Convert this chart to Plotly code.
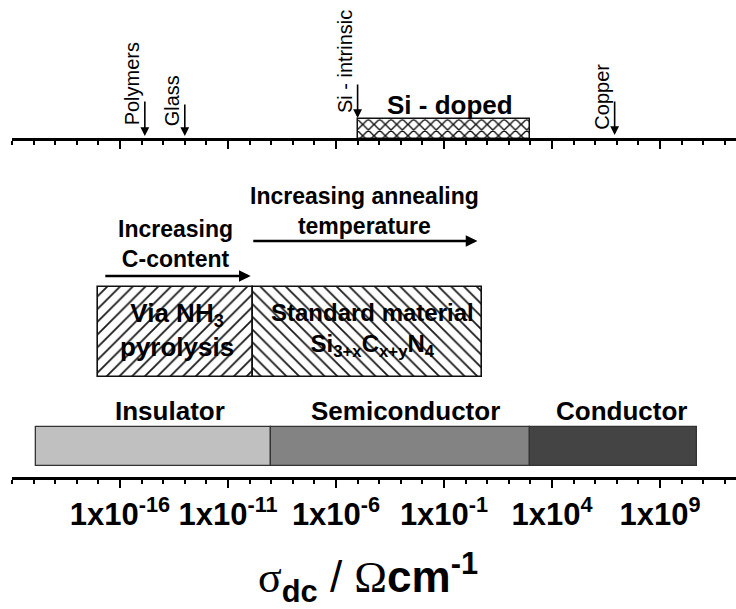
import plotly.graph_objects as go

# ---------------- data (log10 of conductivity, S/cm) ----------------
tick_decades = [-16, -11, -6, -1, 4, 9]
tick_labels = ["1x10<sup>-16</sup>", "1x10<sup>-11</sup>", "1x10<sup>-6</sup>",
               "1x10<sup>-1</sup>", "1x10<sup>4</sup>", "1x10<sup>9</sup>"]

material_names = ["Polymers", "Glass", "Si - intrinsic", "Copper"]
material_decades = [-14.85, -13.0, -5.0, 6.9]

doped_name = ["Si - doped"]
doped_start = [-5.0]
doped_end = [3.0]

process_names = ["Via NH<sub>3</sub><br>pyrolysis",
                 "Standard material<br>Si<sub>3+x</sub>C<sub>x+y</sub>N<sub>4</sub>"]
process_start = [-17.0, -9.85]
process_end = [-9.85, 0.75]

trend_names = ["Increasing<br>C-content", "Increasing annealing<br>temperature"]
trend_start = [-16.75, -9.9]
trend_end = [-9.95, 0.55]

class_names = ["Insulator", "Semiconductor", "Conductor"]
class_start = [-19.9, -9.0, 3.0]
class_end = [-9.0, 3.0, 10.7]

# ---------------- layout constants ----------------
W, H = 736, 609
ML, MB = 12, 132
PLOT_H = H - MB                 # y axis expressed in pixels from the top
PX_PER_DEC = 21.6
X_RANGE = [-21.0, -21.0 + (W - ML) / PX_PER_DEC]
TOP_AXIS_Y = 139

FONT = "Liberation Sans, Arial, sans-serif"
SERIF = "Liberation Serif, Times New Roman, serif"

# label/arrow placement (pixels from top)
mat_label_bottom = [127, 128, 115, 132]
mat_arrow_tail = [100, 103, 83, 100]
mat_arrow_tip = [136, 136, 118, 135]
mat_label_dx = -13

doped_row = dict(y=128.5, h=20, label_y=105, label_x=-0.72)
process_row = dict(y=332, h=90, label_x=[-13.36, -4.33], label_y=330)
trend_row = dict(arrow_y=[276, 241], label_x=[-13.45, -4.7], label_y=[244, 211])
class_row = dict(y=446.5, h=39, label_x=[-13.69, -2.76, 7.24], label_y=411)
class_colors = ["#c0c0c0", "#838383", "#444444"]

fig = go.Figure()

# Si-doped cross-hatched bar (on the upper axis)
fig.add_trace(go.Bar(
    orientation="h", base=doped_start,
    x=[e - s for s, e in zip(doped_start, doped_end)],
    y=[doped_row["y"]], width=doped_row["h"],
    xaxis="x2", yaxis="y",
    marker=dict(color="white",
                line=dict(color="#111111", width=1.5),
                pattern=dict(shape="x", fgcolor="#111111", bgcolor="white",
                             size=8, solidity=0.32, fgopacity=1)),
    hoverinfo="skip", showlegend=False))

# process boxes with hatching
for i, shp in enumerate(["/", "\\"]):
    fig.add_trace(go.Bar(
        orientation="h", base=[process_start[i]],
        x=[process_end[i] - process_start[i]],
        y=[process_row["y"]], width=process_row["h"],
        marker=dict(color="white",
                    line=dict(color="#111111", width=1.6),
                    pattern=dict(shape=shp, fgcolor="#1a1a1a", bgcolor="white",
                                 size=9, solidity=0.2, fgopacity=1)),
        hoverinfo="skip", showlegend=False))

# insulator / semiconductor / conductor bars
fig.add_trace(go.Bar(
    orientation="h", base=class_start,
    x=[e - s for s, e in zip(class_start, class_end)],
    y=[class_row["y"]] * len(class_names), width=class_row["h"],
    marker=dict(color=class_colors, line=dict(color="#333333", width=1.3)),
    hoverinfo="skip", showlegend=False))

ann = []
# material markers (rotated labels and down arrows)
for i, name in enumerate(material_names):
    xd = material_decades[i]
    ann.append(dict(x=xd, y=mat_label_bottom[i], xref="x", yref="y",
                    text=name, textangle=-90, showarrow=False,
                    xanchor="center", yanchor="bottom", xshift=mat_label_dx,
                    font=dict(family=FONT, size=20, color="black")))
    ann.append(dict(x=xd, y=mat_arrow_tip[i], ax=xd, ay=mat_arrow_tail[i],
                    xref="x", yref="y", axref="x", ayref="y", text="",
                    showarrow=True, arrowhead=2, arrowsize=1.1, arrowwidth=1.6,
                    arrowcolor="black", standoff=0, startstandoff=0))

ann.append(dict(x=doped_row["label_x"], y=doped_row["label_y"], xref="x", yref="y",
                text="<b>%s</b>" % doped_name[0], showarrow=False,
                font=dict(family=FONT, size=26, color="black")))

for i, t in enumerate(trend_names):
    ann.append(dict(x=trend_end[i], y=trend_row["arrow_y"][i],
                    ax=trend_start[i], ay=trend_row["arrow_y"][i],
                    xref="x", yref="y", axref="x", ayref="y", text="",
                    showarrow=True, arrowhead=2, arrowsize=0.9, arrowwidth=2.6,
                    arrowcolor="black", standoff=0, startstandoff=0))
    ann.append(dict(x=trend_row["label_x"][i], y=trend_row["label_y"][i],
                    xref="x", yref="y", text="<b>%s</b>" % t, showarrow=False,
                    font=dict(family=FONT, size=23, color="black")))

proc_sizes = [26, 24]
for i, t in enumerate(process_names):
    ann.append(dict(x=process_row["label_x"][i], y=process_row["label_y"], xref="x", yref="y",
                    text="<b>%s</b>" % t, showarrow=False,
                    font=dict(family=FONT, size=proc_sizes[i], color="black")))

for i, t in enumerate(class_names):
    ann.append(dict(x=class_row["label_x"][i], y=class_row["label_y"], xref="x", yref="y",
                    text="<b>%s</b>" % t, showarrow=False,
                    font=dict(family=FONT, size=26, color="black")))

# axis title
title = ('<span style="font-family:%s">σ</span><sub><b>dc</b></sub> / '
         '<span style="font-family:%s">Ω</span><b>cm</b><sup><b>-1</b></sup>') % (SERIF, SERIF)
ann.append(dict(x=(368 - ML) / (W - ML), y=(PLOT_H - 577) / PLOT_H, xref="paper", yref="paper",
                text=title, showarrow=False, xanchor="center", yanchor="middle",
                font=dict(family=FONT, size=44, color="black")))

axis_common = dict(
    range=X_RANGE, showgrid=False, zeroline=False,
    showline=True, linecolor="black", linewidth=2.5,
    ticks="outside", ticklen=8, tickwidth=2, tickcolor="black",
    tickmode="array", tickvals=tick_decades,
    minor=dict(ticks="outside", ticklen=4, tickwidth=2, tickcolor="black",
               tickmode="linear", tick0=-21, dtick=1, showgrid=False),
    fixedrange=True,
)

fig.update_layout(
    width=W, height=H,
    margin=dict(l=ML, r=0, t=0, b=MB),
    paper_bgcolor="white", plot_bgcolor="white",
    barmode="overlay", bargap=0,
    xaxis=dict(**axis_common, ticktext=tick_labels, showticklabels=True,
               ticklabelstandoff=0,
               tickfont=dict(family=FONT, size=31, color="black", weight="bold")),
    xaxis2=dict(**axis_common, overlaying="x", anchor="free",
                position=(PLOT_H - TOP_AXIS_Y) / PLOT_H, side="bottom",
                showticklabels=False, matches="x"),
    yaxis=dict(range=[PLOT_H, 0], visible=False, fixedrange=True),
    annotations=ann,
    showlegend=False,
)

fig.write_html("out.html")
